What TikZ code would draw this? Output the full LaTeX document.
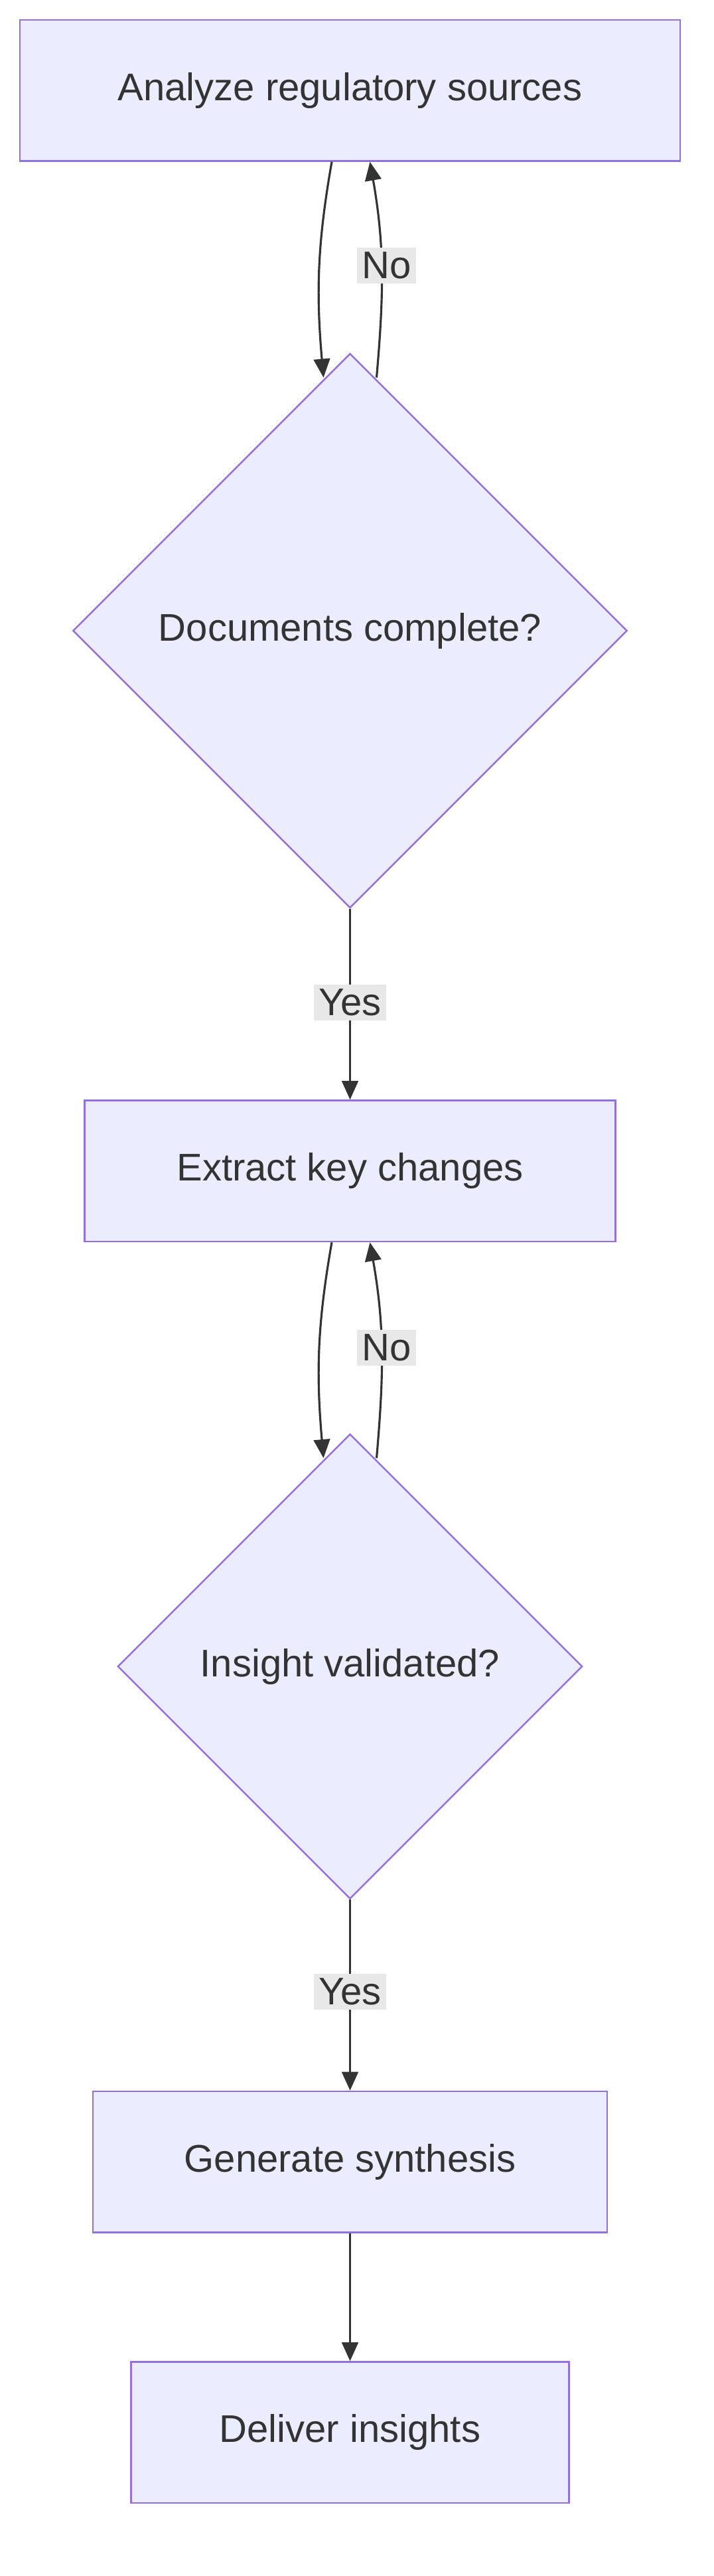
\documentclass[tikz,border=0pt]{standalone}
\usepackage{fontspec}
\setmainfont{Liberation Sans}
\usetikzlibrary{shapes.geometric,arrows.meta,positioning}
\definecolor{nodefill}{HTML}{ECECFF}
\definecolor{nodeline}{HTML}{9370DB}
\definecolor{ink}{HTML}{333333}
\definecolor{lblbg}{HTML}{E8E8E8}
\tikzset{
  stepbox/.style={draw=nodeline, fill=nodefill, line width=0.7pt, text=ink,
    minimum height=2.125cm, font=\fontsize{16.5}{20}\selectfont},
  choice/.style={diamond, draw=nodeline, fill=nodefill, line width=0.7pt, text=ink,
    inner sep=0pt, font=\fontsize{16.5}{20}\selectfont},
  flow/.style={draw=ink, line width=0.9pt, -{Triangle[length=8pt,width=7pt]}},
  lbl/.style={fill=lblbg, text=ink, inner sep=2pt, font=\fontsize{16.5}{20}\selectfont}
}
\begin{document}
\begin{tikzpicture}[x=0.025cm, y=-0.025cm]
  \useasboundingbox (0,0) rectangle (430,1552);
  % nodes
  \node[stepbox, minimum width=9.95cm] (analyze) at (211, 54.5) {Analyze regulatory sources};
  \node[choice, minimum width=8.35cm, minimum height=8.35cm] (complete) at (211, 380) {Documents complete?};
  \node[stepbox, minimum width=8cm] (extract) at (211, 705.5) {Extract key changes};
  \node[choice, minimum width=7cm, minimum height=7cm] (valid) at (211, 1004) {Insight validated?};
  \node[stepbox, minimum width=7.75cm] (synth) at (211, 1302.5) {Generate synthesis};
  \node[stepbox, minimum width=6.6cm] (deliver) at (211, 1465.5) {Deliver insights};
  % loops
  \draw[flow] ([xshift=-0.275cm]analyze.south) to[out=-100, in=95] ([xshift=-0.4cm, yshift=-0.375cm]complete.north);
  \draw[flow] ([xshift=0.4cm, yshift=-0.375cm]complete.north) to[out=85, in=-80] ([xshift=0.3cm]analyze.south);
  \node[lbl] (no1) at (233, 160) {No};
  \draw[flow] ([xshift=-0.275cm]extract.south) to[out=-100, in=95] ([xshift=-0.4cm, yshift=-0.375cm]valid.north);
  \draw[flow] ([xshift=0.4cm, yshift=-0.375cm]valid.north) to[out=85, in=-80] ([xshift=0.3cm]extract.south);
  \node[lbl] (no2) at (233, 812) {No};
  % straight
  \draw[flow] (complete.south) -- (extract.north);
  \node[lbl] (yes1) at (211, 604) {Yes};
  \draw[flow] (valid.south) -- (synth.north);
  \node[lbl] (yes2) at (211, 1200) {Yes};
  \draw[flow] (synth.south) -- (deliver.north);
\end{tikzpicture}
\end{document}
